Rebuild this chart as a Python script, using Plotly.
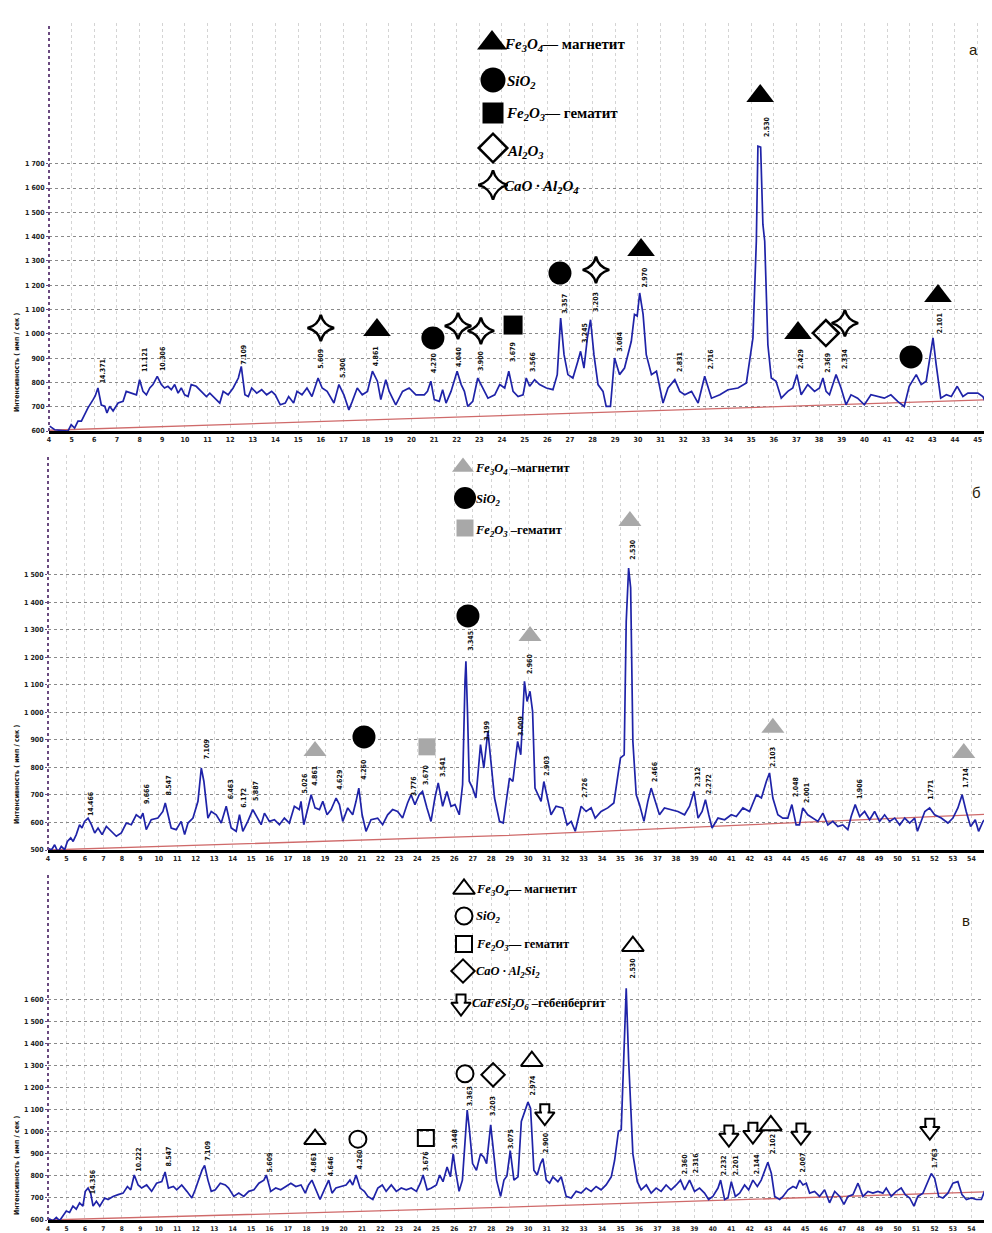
import plotly.graph_objects as go

W, H = 992, 1233

# ---------------- panel а ----------------
two_theta_a = [4.03, 4.25, 4.84, 4.98, 5.13, 5.28, 5.43, 5.72, 5.94, 6.04, 6.16, 6.31, 6.46, 6.56, 6.68, 6.83,
               7.05, 7.27, 7.41, 7.63, 7.86, 8.0, 8.15, 8.3, 8.45, 8.59, 8.78, 8.96, 9.1, 9.25, 9.4, 9.55,
               9.7, 9.84, 9.99, 10.14, 10.28, 10.5, 10.72, 10.95, 11.1, 11.32, 11.54, 11.69, 11.91, 12.13,
               12.36, 12.49, 12.65, 12.8, 12.95, 13.17, 13.39, 13.61, 13.83, 13.99, 14.21, 14.43, 14.58,
               14.8, 14.95, 15.17, 15.39, 15.61, 15.88, 16.06, 16.28, 16.58, 16.8, 17.02, 17.24, 17.39,
               17.61, 17.83, 18.06, 18.28, 18.5, 18.65, 18.87, 19.02, 19.31, 19.61, 19.9, 20.2, 20.57,
               20.71, 20.86, 21.01, 21.23, 21.38, 21.53, 21.75, 22.02, 22.2, 22.34, 22.49, 22.71, 22.93,
               23.16, 23.38, 23.68, 23.9, 24.12, 24.3, 24.49, 24.71, 24.93, 25.07, 25.22, 25.44, 25.66,
               25.96, 26.25, 26.44, 26.59, 26.74, 26.91, 27.13, 27.35, 27.47, 27.62, 27.77, 27.91, 28.06,
               28.24, 28.46, 28.6, 28.79, 28.97, 29.19, 29.41, 29.71, 29.85, 29.97, 30.08, 30.23, 30.37,
               30.6, 30.82, 31.11, 31.33, 31.63, 31.85, 32.07, 32.37, 32.66, 32.95, 33.25, 33.62, 33.98,
               34.42, 34.79, 35.08, 35.23, 35.3, 35.42, 35.52, 35.6, 35.74, 35.89, 36.1, 36.33, 36.62,
               36.84, 37.02, 37.21, 37.5, 37.8, 38.02, 38.17, 38.31, 38.46, 38.75, 38.97, 39.19, 39.41,
               39.7, 40.0, 40.29, 40.58, 40.88, 41.17, 41.47, 41.76, 41.98, 42.29, 42.51, 42.73, 42.92,
               43.03, 43.17, 43.37, 43.62, 43.84, 44.1, 44.35, 44.57, 45.01, 45.23, 45.33]
intensity_a = [620, 605, 600, 626, 612, 641, 641, 695, 728, 744, 777, 707, 702, 674, 702, 682,
               715, 722, 763, 756, 749, 811, 763, 749, 777, 791, 825, 791, 777, 784, 770, 791,
               756, 777, 749, 742, 791, 784, 763, 742, 756, 735, 715, 763, 749, 777,
               818, 866, 749, 742, 777, 756, 770, 749, 763, 749, 708, 715, 742,
               715, 763, 749, 777, 742, 818, 777, 763, 715, 791, 749, 687, 722,
               777, 749, 763, 846, 805, 729, 811, 763, 708, 763, 777, 749, 749,
               763, 805, 729, 722, 770, 715, 763, 846, 791, 763, 701, 722, 818,
               777, 735, 749, 791, 777, 846, 763, 742, 749, 818, 784, 811, 791,
               777, 770, 832, 1065, 914, 832, 818, 887, 928, 859, 983, 1058, 914,
               791, 763, 701, 701, 900, 832, 859, 969, 1080, 1073, 1168, 1080, 914,
               832, 846, 715, 777, 811, 763, 749, 763, 715, 825, 735, 749, 770,
               777, 798, 983, 1381, 1772, 1768, 1450, 1381, 955, 818, 805, 735, 763,
               777, 832, 749, 791, 763, 777, 818, 763, 749, 832, 777, 708, 749,
               735, 708, 749, 742, 735, 749, 722, 701, 784, 832, 791, 805, 928,
               983, 873, 735, 749, 742, 784, 742, 756, 756, 742, 722]
baseline_a_x = [4.0, 24.0, 45.3]
baseline_a_y = [603, 665, 728]

labels_a_x = [6.4, 8.24, 9.03, 12.6, 16.0, 16.98, 18.44, 21.0, 22.1, 23.07, 24.49, 25.37, 26.77, 27.66,
              28.15, 29.2, 30.3, 31.86, 33.24, 35.7, 37.2, 38.39, 39.14, 43.34]
labels_a_y = [847, 892, 900, 913, 896, 863, 908, 880, 908, 892, 925, 884, 1122, 1003,
              1131, 970, 1234, 884, 896, 1855, 896, 880, 900, 1044]
labels_a_text = ["14.371", "11.121", "10.306", "7.109", "5.609", "5.300", "4.861", "4.270", "4.040", "3.900",
                 "3.679", "3.566", "3.357", "3.245", "3.203", "3.084", "2.970", "2.831", "2.716", "2.530",
                 "2.429", "2.369", "2.334", "2.101"]

magnetite_a_x = [18.48, 30.14, 35.4, 37.07, 43.25]
magnetite_a_y = [1016, 1345, 1979, 1003, 1156]
quartz_a_x = [20.95, 26.56, 42.06]
quartz_a_y = [983, 1250, 905]
hematite_a_x = [24.49]
hematite_a_y = [1036]
corundum_a_x = [38.3]
corundum_a_y = [1003]
ca_alum_a_x = [16.0, 22.06, 23.07, 28.15, 39.14]
ca_alum_a_y = [1024, 1032, 1012, 1263, 1044]

# ---------------- panel б ----------------
two_theta_b = [3.96, 4.2, 4.36, 4.54, 4.72, 4.9, 5.05, 5.23, 5.36, 5.53, 5.71, 5.84, 5.98, 6.17, 6.35, 6.53,
               6.71, 6.93, 7.16, 7.43, 7.7, 7.97, 8.24, 8.51, 8.78, 9.02, 9.14, 9.32, 9.59, 9.95, 10.22,
               10.35, 10.49, 10.67, 10.94, 11.21, 11.4, 11.58, 11.85, 12.12, 12.3, 12.44, 12.66, 12.84,
               13.11, 13.38, 13.65, 13.92, 14.19, 14.37, 14.55, 14.82, 15.09, 15.36, 15.54, 15.72, 15.99,
               16.26, 16.53, 16.8, 17.07, 17.34, 17.61, 17.7, 17.85, 18.03, 18.25, 18.46, 18.7, 18.88,
               19.11, 19.33, 19.6, 19.78, 19.96, 20.23, 20.5, 20.68, 20.83, 21.01, 21.22, 21.49, 21.85,
               22.12, 22.39, 22.66, 22.93, 23.2, 23.47, 23.66, 23.87, 24.1, 24.28, 24.52, 24.74, 24.95,
               25.13, 25.37, 25.6, 25.82, 26.04, 26.27, 26.45, 26.58, 26.63, 26.72, 26.81, 26.99, 27.17,
               27.42, 27.6, 27.82, 28.0, 28.18, 28.45, 28.65, 28.99, 29.17, 29.43, 29.6, 29.8, 29.94,
               30.1, 30.24, 30.37, 30.55, 30.7, 30.85, 31.03, 31.24, 31.51, 31.87, 32.11, 32.33, 32.55,
               32.87, 33.14, 33.41, 33.63, 33.95, 34.31, 34.64, 35.0, 35.2, 35.31, 35.44, 35.55, 35.67,
               35.85, 36.03, 36.27, 36.48, 36.66, 36.84, 37.11, 37.38, 37.74, 38.11, 38.47, 38.74, 38.98,
               39.2, 39.42, 39.6, 39.78, 39.96, 40.28, 40.64, 41.0, 41.27, 41.63, 41.99, 42.36, 42.63,
               42.9, 43.07, 43.25, 43.52, 43.79, 44.06, 44.28, 44.51, 44.69, 44.87, 45.14, 45.41, 45.69,
               45.96, 46.23, 46.5, 46.77, 47.04, 47.31, 47.49, 47.71, 47.95, 48.22, 48.49, 48.76, 49.03,
               49.3, 49.57, 49.85, 50.12, 50.39, 50.66, 50.93, 51.08, 51.26, 51.48, 51.74, 52.01, 52.37,
               52.73, 53.0, 53.27, 53.5, 53.72, 53.96, 54.21, 54.39, 54.63, 54.9, 55.26, 55.53]
intensity_b = [507, 501, 519, 492, 513, 501, 531, 544, 531, 556, 592, 580, 604, 616, 592, 562,
               580, 556, 586, 568, 550, 562, 598, 592, 628, 616, 634, 574, 610, 616, 640,
               671, 628, 580, 574, 604, 556, 598, 616, 677, 798, 750, 616, 640,
               628, 598, 659, 580, 568, 628, 568, 604, 647, 616, 592, 634, 604,
               610, 592, 616, 598, 659, 647, 677, 592, 640, 701, 653, 647, 677,
               628, 647, 689, 665, 604, 653, 628, 677, 725, 628, 568, 610, 616,
               592, 628, 647, 640, 616, 671, 701, 665, 701, 713, 653, 604, 689,
               744, 659, 713, 659, 665, 628, 738, 1113, 1186, 992, 750, 725, 689,
               883, 798, 932, 798, 689, 604, 598, 761, 749, 895, 846, 1113, 1040,
               1077, 1004, 725, 701, 677, 749, 689, 628, 659, 653, 591, 604, 568,
               659, 640, 653, 616, 640, 653, 671, 835, 846, 1331, 1525, 1453, 895,
               701, 665, 604, 677, 725, 689, 628, 653, 647, 640, 628, 659, 713,
               616, 640, 683, 628, 580, 616, 610, 628, 622, 653, 640, 701, 689,
               750, 780, 689, 628, 616, 616, 665, 591, 591, 653, 628, 616, 604,
               634, 591, 604, 585, 591, 574, 622, 665, 622, 640, 610, 640, 604,
               628, 604, 616, 591, 616, 598, 616, 568, 604, 640, 653, 628, 616,
               598, 616, 653, 701, 640, 585, 610, 568, 604, 622, 671, 628]
baseline_b_x = [4.0, 28.5, 55.5]
baseline_b_y = [500, 552, 632]

labels_b_x = [6.33, 9.37, 10.57, 12.62, 13.93, 14.6, 15.27, 17.9, 18.44, 19.8, 21.1, 23.84, 24.47, 25.39,
              26.9, 27.77, 29.62, 30.1, 31.0, 33.07, 35.67, 36.86, 39.19, 39.79, 43.25, 44.5, 45.09,
              47.96, 51.8, 53.7, 54.95]
labels_b_y = [667, 704, 736, 867, 722, 689, 715, 744, 769, 755, 795, 733, 773, 802,
              1260, 933, 951, 1176, 805, 729, 1595, 787, 765, 740, 838, 729, 707,
              725, 718, 765, 755]
labels_b_text = ["14.466", "9.666", "8.547", "7.109", "6.463", "6.172", "5.887", "5.026", "4.861", "4.629",
                 "4.260", "3.776", "3.670", "3.541", "3.345", "3.199", "3.009", "2.960", "2.903", "2.726",
                 "2.530", "2.466", "2.312", "2.272", "2.103", "2.048", "2.001", "1.906", "1.771", "1.714",
                 "1.665"]

magnetite_b_x = [18.46, 30.1, 35.51, 43.25, 53.59]
magnetite_b_y = [860, 1278, 1696, 944, 853]
quartz_b_x = [21.11, 26.74]
quartz_b_y = [911, 1351]
hematite_b_x = [24.52]
hematite_b_y = [875]

# ---------------- panel в ----------------
two_theta_c = [3.96, 4.09, 4.27, 4.45, 4.63, 4.81, 4.99, 5.17, 5.35, 5.53, 5.71, 5.89, 6.02, 6.17, 6.31,
               6.44, 6.62, 6.8, 7.07, 7.25, 7.52, 7.8, 8.07, 8.3, 8.48, 8.67, 8.88, 9.07, 9.34, 9.61,
               9.88, 10.16, 10.34, 10.52, 10.79, 10.97, 11.24, 11.52, 11.79, 11.97, 12.15, 12.34, 12.48,
               12.66, 12.84, 13.06, 13.33, 13.6, 13.78, 14.06, 14.33, 14.6, 14.87, 15.15, 15.42, 15.69,
               15.82, 16.06, 16.33, 16.6, 16.88, 17.15, 17.42, 17.7, 17.93, 18.11, 18.29, 18.51, 18.73,
               18.96, 19.2, 19.38, 19.59, 19.86, 20.14, 20.35, 20.5, 20.68, 20.9, 21.13, 21.32, 21.59,
               21.86, 22.1, 22.31, 22.59, 22.86, 23.13, 23.4, 23.67, 23.95, 24.16, 24.31, 24.53, 24.76,
               25.03, 25.21, 25.39, 25.61, 25.79, 25.94, 26.08, 26.26, 26.44, 26.59, 26.7, 26.81, 26.99,
               27.2, 27.42, 27.6, 27.75, 27.97, 28.11, 28.29, 28.51, 28.69, 28.85, 29.03, 29.23, 29.45,
               29.63, 29.81, 29.99, 30.13, 30.31, 30.49, 30.67, 30.8, 30.98, 31.16, 31.34, 31.61, 31.79,
               32.06, 32.33, 32.6, 32.87, 33.14, 33.41, 33.68, 33.95, 34.22, 34.5, 34.68, 34.89, 35.04,
               35.18, 35.31, 35.44, 35.55, 35.67, 35.91, 36.12, 36.4, 36.66, 36.93, 37.2, 37.47, 37.74,
               38.02, 38.25, 38.47, 38.74, 39.01, 39.28, 39.55, 39.77, 40.0, 40.28, 40.42, 40.64, 40.82,
               41.0, 41.22, 41.45, 41.72, 41.94, 42.17, 42.41, 42.62, 42.8, 42.98, 43.17, 43.35, 43.62,
               43.8, 44.07, 44.34, 44.52, 44.7, 44.88, 45.06, 45.24, 45.51, 45.78, 46.05, 46.32, 46.6,
               46.87, 47.1, 47.32, 47.59, 47.86, 48.13, 48.4, 48.67, 48.94, 49.21, 49.39, 49.66, 49.93,
               50.2, 50.42, 50.66, 50.89, 51.1, 51.38, 51.65, 51.83, 52.01, 52.23, 52.46, 52.73, 53.0,
               53.27, 53.49, 53.73, 54.0, 54.27, 54.54, 54.81, 55.08, 55.35, 55.53]
intensity_c = [590, 604, 597, 612, 597, 619, 641, 634, 663, 649, 678, 663, 730, 745, 722,
               663, 685, 663, 700, 693, 707, 715, 722, 752, 737, 804, 759, 745, 759, 730,
               767, 774, 818, 745, 752, 737, 759, 730, 700, 737, 781, 826, 848,
               781, 730, 737, 767, 759, 745, 707, 722, 707, 730, 737, 767, 781,
               804, 730, 745, 737, 752, 767, 752, 759, 722, 759, 781, 737, 693,
               737, 781, 722, 745, 752, 759, 781, 759, 804, 745, 730, 707, 693,
               745, 759, 730, 759, 730, 745, 737, 745, 730, 767, 804, 737, 745,
               759, 804, 774, 841, 796, 900, 818, 730, 781, 944, 1099, 1018, 856,
               826, 900, 885, 856, 1032, 915, 781, 707, 781, 800, 915, 781, 796,
               1047, 1091, 1135, 1106, 826, 804, 856, 878, 781, 767, 796, 774, 796,
               707, 700, 730, 722, 745, 730, 752, 737, 759, 796, 870, 1003, 1010,
               1312, 1652, 1326, 1091, 900, 774, 737, 759, 722, 745, 730, 759, 737,
               759, 781, 737, 781, 730, 745, 722, 693, 707, 745, 781, 693, 700,
               774, 707, 722, 759, 737, 781, 752, 781, 818, 862, 811, 707, 693,
               707, 737, 752, 745, 781, 759, 767, 722, 730, 707, 737, 678, 730,
               707, 671, 707, 715, 767, 707, 730, 722, 730, 722, 745, 707, 730,
               745, 715, 700, 663, 707, 722, 781, 811, 789, 707, 700, 722, 767,
               774, 715, 693, 700, 693, 693, 752, 774, 745, 745]
baseline_c_x = [4.0, 28.5, 55.5]
baseline_c_y = [600, 657, 730]

labels_c_x = [6.44, 8.93, 10.55, 12.66, 16.02, 18.4, 19.32, 20.89, 24.46, 26.03, 26.85, 28.1, 29.07, 30.26,
              30.96, 35.67, 38.49, 39.08, 40.65, 41.25, 42.39, 43.25, 44.88, 52.02]
labels_c_y = [772, 874, 888, 914, 861, 861, 848, 879, 870, 967, 1162, 1118, 967, 1215,
              954, 1746, 857, 861, 848, 848, 857, 945, 861, 879]
labels_c_text = ["14.356", "10.222", "8.547", "7.109", "5.609", "4.861", "4.646", "4.260", "3.676", "3.448",
                 "3.363", "3.203", "3.075", "2.974", "2.900", "2.530", "2.360", "2.316", "2.232", "2.201",
                 "2.144", "2.102", "2.007", "1.763"]

magnetite_c_x = [18.46, 30.2, 35.67, 43.14]
magnetite_c_y = [967, 1321, 1843, 1029]
quartz_c_x = [20.78, 26.58]
quartz_c_y = [967, 1264]
hematite_c_x = [24.46]
hematite_c_y = [972]
ca_al_si_c_x = [28.1]
ca_al_si_c_y = [1259]
hedenbergite_c_x = [30.9, 40.87, 42.17, 44.77, 51.75]
hedenbergite_c_y = [1069, 972, 985, 981, 1003]

# axis ticks
yticks_a = list(range(600, 1800, 100))
yticks_b = list(range(500, 1600, 100))
yticks_c = list(range(600, 1700, 100))
xticks_a = list(range(4, 46))
xticks_bc = list(range(4, 56))

# axis ranges / domains (pixels from top)
range_a_x, range_a_y = [4, 45.9], [600, 2279]
range_bc_x = [4, 55.55]
range_b_y, range_c_y = [500, 1936], [600, 2175]
top_a, bot_a = 15, 423
top_b, bot_b = 447, 842
top_c, bot_c = 865, 1212


def fmt(v):
    s = str(v)
    return s if v < 1000 else s[0] + " " + s[1:]


BLUE = "#1f23a8"
RED = "#cf6a6a"
GRAY = "#a8a8a8"
NARROW = "Liberation Sans Narrow, DejaVu Sans Condensed, Arial Narrow, Arial"

fig = go.Figure()


def add_panel(n, tx, iy, bx, by, lx, ly, lt):
    xa, ya = ("x", "y") if n == 1 else ("x%d" % n, "y%d" % n)
    fig.add_trace(go.Scatter(x=bx, y=by, mode="lines", line=dict(color=RED, width=1.3),
                             xaxis=xa, yaxis=ya, showlegend=False, hoverinfo="skip"))
    fig.add_trace(go.Scatter(x=tx, y=iy, mode="lines", line=dict(color=BLUE, width=1.7),
                             xaxis=xa, yaxis=ya, showlegend=False))
    for x, y, t in zip(lx, ly, lt):
        fig.add_annotation(x=x, y=y, xref=xa, yref=ya, text="<b>%s</b>" % t, showarrow=False,
                           textangle=-90, xanchor="center", yanchor="middle",
                           font=dict(size=7, color="#111", family=NARROW))
    return xa, ya


def markers(xa, ya, xs, ys, symbol, size, color="black", lw=0, lc="black"):
    fig.add_trace(go.Scatter(x=xs, y=ys, mode="markers", xaxis=xa, yaxis=ya, showlegend=False,
                             marker=dict(symbol=symbol, size=size, color=color, opacity=1,
                                         line=dict(width=lw, color=lc))))


def block_arrows(xa, ya, xs, ys, units_per_px):
    # outlined down-pointing block arrow: shaft (square) sitting on an arrow head (triangle)
    shaft_y = [y + 8 * units_per_px for y in ys]
    markers(xa, ya, xs, shaft_y, "square", 9, color="white", lw=2)
    markers(xa, ya, xs, ys, "triangle-down", 17, color="white", lw=2)
    markers(xa, ya, xs, [y + 4 * units_per_px for y in ys], "square", 5.5, color="white", lw=0)


xa, ya = add_panel(1, two_theta_a, intensity_a, baseline_a_x, baseline_a_y, labels_a_x, labels_a_y, labels_a_text)
markers(xa, ya, magnetite_a_x, magnetite_a_y, "triangle-up", 24)
markers(xa, ya, quartz_a_x, quartz_a_y, "circle", 23)
markers(xa, ya, hematite_a_x, hematite_a_y, "square", 19)
markers(xa, ya, corundum_a_x, corundum_a_y, "diamond-open", 20, lw=2.5)
markers(xa, ya, ca_alum_a_x, ca_alum_a_y, "star-diamond-open", 19, lw=2.5)

xb, yb = add_panel(2, two_theta_b, intensity_b, baseline_b_x, baseline_b_y, labels_b_x, labels_b_y, labels_b_text)
markers(xb, yb, magnetite_b_x, magnetite_b_y, "triangle-up", 20, color=GRAY)
markers(xb, yb, quartz_b_x, quartz_b_y, "circle", 23)
markers(xb, yb, hematite_b_x, hematite_b_y, "square", 17, color=GRAY)

xc, yc = add_panel(3, two_theta_c, intensity_c, baseline_c_x, baseline_c_y, labels_c_x, labels_c_y, labels_c_text)
markers(xc, yc, magnetite_c_x, magnetite_c_y, "triangle-up-open", 19, lw=2)
markers(xc, yc, quartz_c_x, quartz_c_y, "circle-open", 17, lw=2)
markers(xc, yc, hematite_c_x, hematite_c_y, "square-open", 16, lw=2)
markers(xc, yc, ca_al_si_c_x, ca_al_si_c_y, "diamond-open", 18, lw=2)
block_arrows(xc, yc, hedenbergite_c_x, hedenbergite_c_y, (range_c_y[1] - range_c_y[0]) / (bot_c - top_c))

# ---------- key symbols on a pixel-space overlay ----------
KX, KY = "x4", "y4"
markers(KX, KY, [484], [35], "triangle-up", 26)
markers(KX, KY, [485], [72], "circle", 25)
markers(KX, KY, [485], [105], "square", 21)
markers(KX, KY, [485], [140], "diamond-open", 22, lw=2.5)
markers(KX, KY, [485], [177], "star-diamond-open", 21, lw=2.5)

markers(KX, KY, [455], [459], "triangle-up", 19, color=GRAY)
markers(KX, KY, [457], [490], "circle", 22)
markers(KX, KY, [457], [520], "square", 17, color=GRAY)

markers(KX, KY, [456], [881], "triangle-up-open", 19, lw=2)
markers(KX, KY, [456], [908], "circle-open", 17, lw=2)
markers(KX, KY, [456], [936], "square-open", 16, lw=2)
markers(KX, KY, [455], [963], "diamond-open", 18, lw=2)
block_arrows(KX, KY, [453], [999], -1)

SERIF = "Liberation Serif, DejaVu Serif, serif"


def key_text(px, py, html, size):
    fig.add_annotation(x=px / W, y=1 - py / H, xref="paper", yref="paper", text=html, showarrow=False,
                       xanchor="left", yanchor="middle", font=dict(size=size, color="black", family=SERIF))


key_text(494, 37, "<b><i>Fe<sub>3</sub>O<sub>4</sub></i>— магнетит</b>", 15)
key_text(497, 74, "<b><i>SiO<sub>2</sub></i></b>", 15)
key_text(496, 106, "<b><i>Fe<sub>2</sub>O<sub>3</sub></i>— гематит</b>", 15)
key_text(497, 144, "<b><i>Al<sub>2</sub>O<sub>3</sub></i></b>", 15)
key_text(494, 179, "<b><i>CaO · Al<sub>2</sub>O<sub>4</sub></i></b>", 15)

key_text(465, 461, "<b><i>Fe<sub>3</sub>O<sub>4</sub></i> –магнетит</b>", 12.5)
key_text(466, 492, "<b><i>SiO<sub>2</sub></i></b>", 12.5)
key_text(465, 523, "<b><i>Fe<sub>2</sub>O<sub>3</sub></i> –гематит</b>", 12.5)

key_text(466, 882, "<b><i>Fe<sub>3</sub>O<sub>4</sub></i>— магнетит</b>", 12.5)
key_text(466, 909, "<b><i>SiO<sub>2</sub></i></b>", 12.5)
key_text(466, 937, "<b><i>Fe<sub>2</sub>O<sub>3</sub></i>— гематит</b>", 12.5)
key_text(466, 964, "<b><i>CaO · Al<sub>2</sub>Si<sub>2</sub></i></b>", 12.5)
key_text(462, 996, "<b><i>CaFeSi<sub>2</sub>O<sub>6</sub></i> –гебенбергит</b>", 12.5)

for px, py, t in [(965, 42, "а"), (968, 484, "б"), (958, 912, "в")]:
    fig.add_annotation(x=px / W, y=1 - py / H, xref="paper", yref="paper", text=t, showarrow=False,
                       xanchor="center", yanchor="middle",
                       font=dict(size=15, color="#2a1c08", family="Liberation Sans, Arial"))

for py in [355, 767, 1158]:
    fig.add_annotation(x=9 / W, y=1 - py / H, xref="paper", yref="paper",
                       text="<b>Интенсивность ( имп / сек )</b>", showarrow=False, textangle=-90,
                       xanchor="center", yanchor="middle",
                       font=dict(size=7, color="#111", family=NARROW))

tickfont = dict(size=7, color="#222", family=NARROW, weight="bold")
tickfont_small = dict(size=6.5, color="#222", family=NARROW, weight="bold")


def xaxis_cfg(dom, rng, ticks, anchor, tf):
    return dict(domain=dom, range=rng, tickmode="array", tickvals=ticks, ticktext=[str(t) for t in ticks],
                showgrid=True, gridcolor="#d4d4d4", griddash="dot", gridwidth=1, zeroline=False,
                showline=True, linecolor="black", linewidth=3, ticks="",
                tickfont=tf, anchor=anchor, automargin=False, fixedrange=True)


def yaxis_cfg(dom, rng, ticks, anchor):
    return dict(domain=dom, range=rng, tickmode="array", tickvals=ticks, ticktext=[fmt(t) for t in ticks],
                showgrid=True, gridcolor="#8a8a8a", griddash="dot", gridwidth=1, zeroline=False,
                showline=False, ticks="outside", ticklen=2, tickcolor="#6a4a80", tickfont=tickfont,
                anchor=anchor, automargin=False, fixedrange=True)


def ydom(top, bot):
    return [1 - bot / H, 1 - top / H]


dom_a_x = [41 / W, 990 / W]
dom_bc_x = [40 / W, 1.0]

fig.update_layout(
    width=W, height=H, margin=dict(l=0, r=0, t=0, b=0),
    paper_bgcolor="white", plot_bgcolor="rgba(0,0,0,0)", showlegend=False,
    xaxis=xaxis_cfg(dom_a_x, range_a_x, xticks_a, "y", tickfont),
    yaxis=yaxis_cfg(ydom(top_a, bot_a), range_a_y, yticks_a, "x"),
    xaxis2=xaxis_cfg(dom_bc_x, range_bc_x, xticks_bc, "y2", tickfont),
    yaxis2=yaxis_cfg(ydom(top_b, bot_b), range_b_y, yticks_b, "x2"),
    xaxis3=xaxis_cfg(dom_bc_x, range_bc_x, xticks_bc, "y3", tickfont_small),
    yaxis3=yaxis_cfg(ydom(top_c, bot_c), range_c_y, yticks_c, "x3"),
    xaxis4=dict(domain=[0, 1], range=[0, W], visible=False, anchor="y4", fixedrange=True),
    yaxis4=dict(domain=[0, 1], range=[H, 0], visible=False, anchor="x4", fixedrange=True),
)

for xr, yr in [("x", "y"), ("x2", "y2"), ("x3", "y3")]:
    fig.add_shape(type="line", xref=xr + " domain", yref=yr + " domain", x0=0, x1=0, y0=0, y1=1,
                  line=dict(color="#6a4a80", width=2, dash="dot"))

fig.write_html("out.html")
